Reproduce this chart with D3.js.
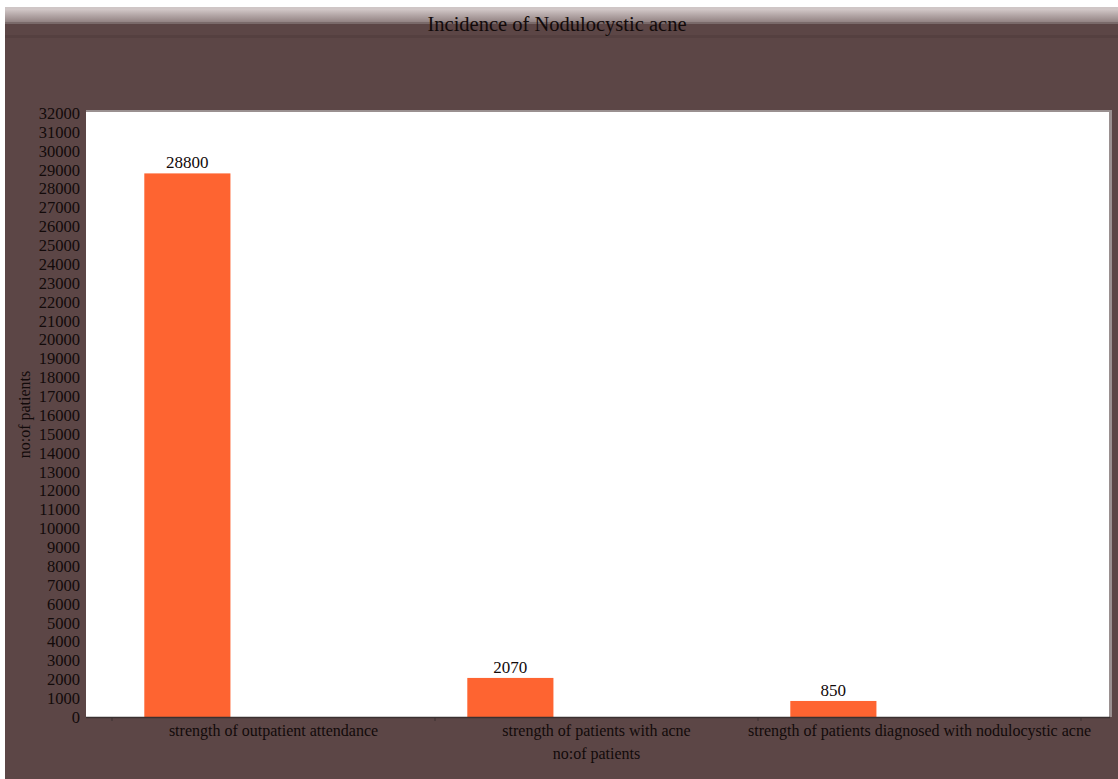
<!DOCTYPE html>
<html>
<head>
<meta charset="utf-8">
<script src="https://cdn.jsdelivr.net/npm/d3@7"></script>
<style>
  html, body { margin: 0; padding: 0; background: #ffffff; }
  svg { display: block; }
  text { font-family: "Liberation Serif", "DejaVu Serif", serif; fill: #120a0a; }
</style>
</head>
<body>
<svg id="chart" width="1118" height="779"></svg>
<script>
// Chart data
const categories = [
  "strength of outpatient attendance",
  "strength of patients with acne",
  "strength of patients diagnosed with nodulocystic acne"
];
const patients = [28800, 2070, 850];
const yTicks = d3.range(0, 32001, 1000);

const chartTitle = "Incidence of Nodulocystic acne";
const yTitle = "no:of patients";
const xTitle = "no:of patients";

const W = 1118, H = 779;
const plot = { left: 86, right: 1110, top: 112, bottom: 717 };

const svg = d3.select("#chart");
const defs = svg.append("defs");

const headGrad = defs.append("linearGradient")
  .attr("id", "headGrad").attr("x1", 0).attr("x2", 0).attr("y1", 0).attr("y2", 1);
headGrad.append("stop").attr("offset", "0%").attr("stop-color", "#d3c9c9");
headGrad.append("stop").attr("offset", "45%").attr("stop-color", "#b3a6a6");
headGrad.append("stop").attr("offset", "100%").attr("stop-color", "#8e7e7e");

// Frame background
svg.append("rect").attr("x", 5).attr("y", 7).attr("width", W - 5).attr("height", H - 7)
  .attr("fill", "#5c4646");
// Header strip
svg.append("rect").attr("x", 5).attr("y", 7).attr("width", W - 5).attr("height", 2)
  .attr("fill", "#cfc6c6");
svg.append("rect").attr("x", 5).attr("y", 9).attr("width", W - 5).attr("height", 14)
  .attr("fill", "url(#headGrad)");
svg.append("rect").attr("x", 5).attr("y", 22).attr("width", W - 5).attr("height", 2)
  .attr("fill", "#7a6a6a");
svg.append("rect").attr("x", 5).attr("y", 35).attr("width", W - 5).attr("height", 3)
  .attr("fill", "#554040");

svg.append("text")
  .attr("x", 557).attr("y", 31)
  .attr("text-anchor", "middle")
  .style("font-size", "20.5px")
  .text(chartTitle);

// Plot area with a soft shadow edge
svg.append("rect").attr("x", plot.left).attr("y", plot.top - 2)
  .attr("width", plot.right - plot.left + 2).attr("height", plot.bottom - plot.top + 2)
  .attr("fill", "#9a9090");
svg.append("rect").attr("x", plot.left).attr("y", plot.top)
  .attr("width", plot.right - plot.left - 1).attr("height", plot.bottom - plot.top)
  .attr("fill", "#ffffff");

// Scales
const y = d3.scaleLinear().domain([0, 32000]).range([plot.bottom, plot.top + 1]);
const x = d3.scaleBand().domain(categories).range([112, 1081]).padding(0);
const barW = x.bandwidth() * 0.8 / 3;
const barOffset = x.bandwidth() * 0.1;

// Y axis labels
const yAxis = d3.axisLeft(y).tickValues(yTicks).tickSize(0).tickPadding(6).tickFormat(d3.format("d"));
const yg = svg.append("g").attr("transform", `translate(${plot.left},0)`).call(yAxis);
yg.select(".domain").remove();
yg.selectAll("text").style("font-size", "16.5px").attr("fill", "#120a0a").attr("dy", "0.33em");

// Bars
svg.append("g").selectAll("rect")
  .data(patients)
  .join("rect")
  .attr("x", (d, i) => x(categories[i]) + barOffset)
  .attr("y", d => y(d))
  .attr("width", barW)
  .attr("height", d => y(0) - y(d))
  .attr("fill", "#fe6431");

// Value labels
svg.append("g").selectAll("text")
  .data(patients)
  .join("text")
  .attr("x", (d, i) => x(categories[i]) + barOffset + barW / 2)
  .attr("y", d => y(d) - 5)
  .attr("text-anchor", "middle")
  .style("font-size", "17px")
  .text(d => d);

// X axis baseline and ticks
svg.append("line")
  .attr("x1", plot.left).attr("x2", plot.right)
  .attr("y1", plot.bottom + 0.5).attr("y2", plot.bottom + 0.5)
  .attr("stroke", "#3a3030").attr("stroke-width", 1.5);

const xAxis = d3.axisBottom(x).tickSize(0).tickPadding(8);
const xg = svg.append("g").attr("transform", `translate(0,${plot.bottom})`).call(xAxis);
xg.select(".domain").remove();
xg.selectAll("text").style("font-size", "16px").attr("fill", "#120a0a");

const boundaries = categories.map(c => x(c)).concat([x.range()[1]]);
svg.append("g").selectAll("line")
  .data(boundaries)
  .join("line")
  .attr("x1", d => d).attr("x2", d => d)
  .attr("y1", plot.bottom + 1).attr("y2", plot.bottom + 4)
  .attr("stroke", "#3a3030").attr("stroke-width", 1);

// Axis titles
svg.append("text")
  .attr("transform", `translate(30,${(plot.top + plot.bottom) / 2}) rotate(-90)`)
  .attr("text-anchor", "middle")
  .style("font-size", "16px")
  .text(yTitle);

svg.append("text")
  .attr("x", x(categories[1]) + x.bandwidth() / 2)
  .attr("y", 759)
  .attr("text-anchor", "middle")
  .style("font-size", "16px")
  .text(xTitle);
</script>
</body>
</html>
